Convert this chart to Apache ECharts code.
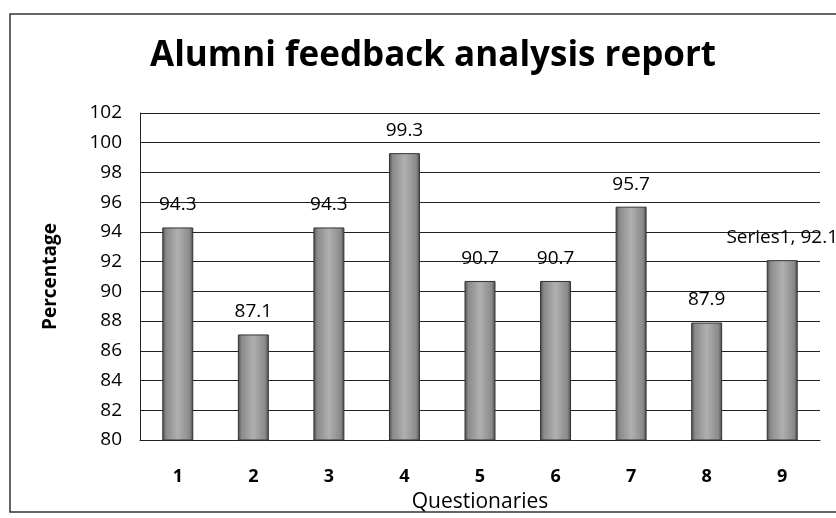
<!DOCTYPE html>
<html><head><meta charset="utf-8">
<script src="https://cdn.jsdelivr.net/npm/echarts@6/dist/echarts.min.js"></script>
<style>html,body{margin:0;padding:0;background:#fff}#c{width:836px;height:518px}</style>
</head><body><div id="c"></div>
<script>
const categories = ['1','2','3','4','5','6','7','8','9'];
const values = [94.3, 87.1, 94.3, 99.3, 90.7, 90.7, 95.7, 87.9, 92.1];
const seriesName = 'Series1';
const yMin = 80, yMax = 102, yStep = 2;

const font = '"Open Sans", Lato, sans-serif';
const chart = echarts.init(document.getElementById('c'));
chart.setOption({
  animation: false,
  backgroundColor: '#fff',
  title: {
    text: 'Alumni feedback analysis report',
    left: 145, top: 34,
    textStyle: {fontFamily: font, fontSize: 35, fontWeight: 'bold', color: '#000'}
  },
  graphic: [{
    type: 'rect', shape: {x: 10, y: 14, width: 840, height: 498},
    style: {fill: 'none', stroke: '#333', lineWidth: 1.5}, silent: true
  }],
  grid: {left: 140, right: 16, top: 113, bottom: 78},
  xAxis: {
    type: 'category', data: categories,
    name: 'Questionaries', nameLocation: 'middle', nameGap: 52,
    nameTextStyle: {fontFamily: font, fontSize: 21, color: '#000'},
    axisLine: {show: true, lineStyle: {color: '#222', width: 1}},
    axisTick: {show: false},
    axisLabel: {fontFamily: font, fontSize: 18, color: '#000', fontWeight: 'bold', margin: 28}
  },
  yAxis: {
    type: 'value', min: yMin, max: yMax, interval: yStep,
    name: 'Percentage', nameLocation: 'middle', nameGap: 80, nameRotate: 90,
    nameTextStyle: {fontFamily: font, fontSize: 19, fontWeight: 'bold', color: '#000'},
    axisLine: {show: true, lineStyle: {color: '#222', width: 1}},
    axisTick: {show: false},
    axisLabel: {fontFamily: font, fontSize: 19, color: '#000', margin: 18},
    splitLine: {show: true, lineStyle: {color: '#222', width: 1}}
  },
  series: [{
    name: seriesName, type: 'bar', data: values, barWidth: '41%',
    itemStyle: {
      color: new echarts.graphic.LinearGradient(0, 0, 1, 0, [
        {offset: 0, color: '#4a4a4a'},
        {offset: 0.12, color: '#8a8a8a'},
        {offset: 0.5, color: '#b0b0b0'},
        {offset: 0.88, color: '#8a8a8a'},
        {offset: 1, color: '#4a4a4a'}
      ]),
      borderColor: '#333', borderWidth: 1
    },
    label: {
      show: true, position: 'top', distance: 13,
      fontFamily: font, fontSize: 19, color: '#000',
      formatter: p => p.dataIndex === values.length - 1 ? seriesName + ', ' + p.value : String(p.value)
    }
  }]
});
</script></body></html>
